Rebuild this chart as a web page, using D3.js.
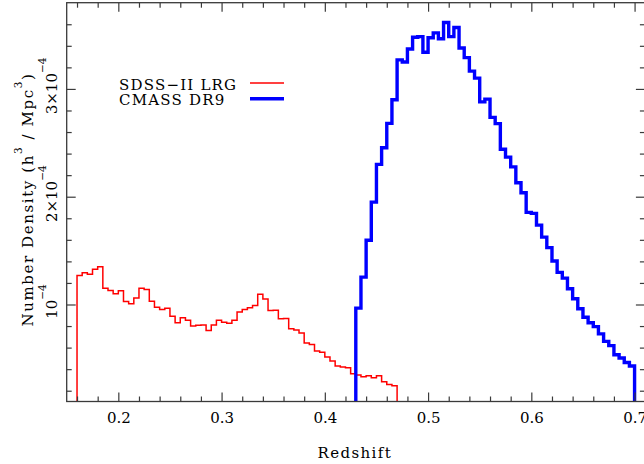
<!DOCTYPE html>
<html>
<head>
<meta charset="utf-8">
<script src="https://cdn.jsdelivr.net/npm/d3@7"></script>
<style>
  html, body { margin: 0; padding: 0; background: #fff; }
  svg { display: block; }
  text { font-family: "DejaVu Serif", serif; fill: #000; }
</style>
</head>
<body>
<svg id="chart" width="644" height="464"></svg>
<script>
// ---------------- data (number density in units of 1e-4 h^3/Mpc^3) ----------------
const lrgBinStart = 0.16;
const lrgBinWidth = 0.005;
const lrgDensity = [
  1.27, 1.295, 1.28, 1.326, 1.35,
  1.15, 1.13, 1.10, 1.128, 1.028,
  1.006, 1.06, 1.15, 1.14, 1.03,
  0.975, 0.953, 0.966, 0.89, 0.83,
  0.876, 0.854, 0.80, 0.807, 0.81,
  0.758, 0.81, 0.854, 0.835, 0.826,
  0.854, 0.93, 0.953, 0.97, 0.99,
  1.096, 1.05, 0.944, 0.947, 0.867,
  0.87, 0.774, 0.764, 0.736, 0.643,
  0.63, 0.568, 0.556, 0.513, 0.475,
  0.43, 0.42, 0.413, 0.357, 0.345,
  0.33, 0.34, 0.32, 0.34, 0.283,
  0.258, 0.245
];

const cmassBinStart = 0.43;
const cmassBinWidth = 0.005;
const cmassDensity = [
  0.966, 1.254, 1.596, 1.95, 2.30,
  2.454, 2.68, 2.90, 3.27, 3.25,
  3.37, 3.48, 3.485, 3.34, 3.475,
  3.52, 3.466, 3.616, 3.485, 3.57,
  3.38, 3.29, 3.165, 3.10, 2.88,
  2.905, 2.736, 2.678, 2.44, 2.367,
  2.277, 2.13, 2.037, 1.855, 1.845,
  1.736, 1.625, 1.528, 1.404, 1.298,
  1.245, 1.146, 1.053, 0.96, 0.882,
  0.83, 0.795, 0.727, 0.658, 0.618,
  0.534, 0.503, 0.462, 0.43
];

const xMajorTicks = [0.2, 0.3, 0.4, 0.5, 0.6, 0.7];
const xMajorLabels = ["0.2", "0.3", "0.4", "0.5", "0.6", "0.7"];
const xMinorTicks = [0.16, 0.18, 0.22, 0.24, 0.26, 0.28, 0.32, 0.34, 0.36, 0.38,
                     0.42, 0.44, 0.46, 0.48, 0.52, 0.54, 0.56, 0.58, 0.62, 0.64, 0.66, 0.68];
const yMajorTicks = [1, 2, 3];
const yMajorMantissa = ["", "2×", "3×"];
const yMinorTicks = [0.2, 0.4, 0.6, 0.8, 1.2, 1.4, 1.6, 1.8, 2.2, 2.4, 2.6, 2.8, 3.2, 3.4, 3.6];

const seriesNames = ["SDSS\u2212II LRG", "CMASS DR9"];
const seriesColors = ["#ff0000", "#0000ff"];
const seriesWidths = [1.5, 3.4];

// ---------------- layout ----------------
const svg = d3.select("#chart");
const L = 66.7, R = 644.9, T = 2.7, B = 401.5;
const x = d3.scaleLinear().domain([0.15, 0.71]).range([L, R]);
const y = d3.scaleLinear().domain([0.1, 3.8]).range([B, T]);
const axisColor = "#3a3a3a";

svg.append("defs").append("clipPath").attr("id", "plotclip")
  .append("rect").attr("x", L).attr("y", T).attr("width", R - L).attr("height", B - T);

// histograms
function histPoints(start, width, vals) {
  const edges = vals.map((v, i) => start + i * width);
  const pts = [[edges[0], y.domain()[0]]];
  vals.forEach((v, i) => pts.push([edges[i], v]));
  const end = start + vals.length * width;
  pts.push([end, vals[vals.length - 1]]);
  pts.push([end, y.domain()[0]]);
  return pts;
}
const line = d3.line().x(d => x(d[0])).y(d => y(d[1])).curve(d3.curveStepAfter);
const gPlot = svg.append("g").attr("clip-path", "url(#plotclip)");
gPlot.append("path").attr("d", line(histPoints(lrgBinStart, lrgBinWidth, lrgDensity)))
  .attr("fill", "none").attr("stroke", seriesColors[0]).attr("stroke-width", seriesWidths[0])
  .attr("stroke-linejoin", "miter");
gPlot.append("path").attr("d", line(histPoints(cmassBinStart, cmassBinWidth, cmassDensity)))
  .attr("fill", "none").attr("stroke", seriesColors[1]).attr("stroke-width", seriesWidths[1])
  .attr("stroke-linejoin", "miter");

// axes (ticks inward on all sides)
function styleAxis(g) {
  g.select(".domain").remove();
  g.selectAll(".tick line").attr("stroke", axisColor).attr("stroke-width", 1.2);
}
svg.append("g").attr("transform", `translate(0,${B})`)
  .call(d3.axisBottom(x).tickValues(xMajorTicks).tickSize(-9).tickPadding(11)
    .tickFormat((d, i) => xMajorLabels[i]))
  .call(styleAxis)
  .call(g => g.selectAll("text").attr("font-size", 15).attr("font-family", "DejaVu Serif").attr("fill", "#000"));
svg.append("g").attr("transform", `translate(0,${B})`)
  .call(d3.axisBottom(x).tickValues(xMinorTicks).tickSize(-5).tickFormat(""))
  .call(styleAxis);
svg.append("g").attr("transform", `translate(0,${T})`)
  .call(d3.axisTop(x).tickValues(xMajorTicks).tickSize(-9).tickFormat(""))
  .call(styleAxis);
svg.append("g").attr("transform", `translate(0,${T})`)
  .call(d3.axisTop(x).tickValues(xMinorTicks).tickSize(-5).tickFormat(""))
  .call(styleAxis);
svg.append("g").attr("transform", `translate(${L},0)`)
  .call(d3.axisLeft(y).tickValues(yMajorTicks).tickSize(-9).tickFormat(""))
  .call(styleAxis);
svg.append("g").attr("transform", `translate(${L},0)`)
  .call(d3.axisLeft(y).tickValues(yMinorTicks).tickSize(-5).tickFormat(""))
  .call(styleAxis);
svg.append("g").attr("transform", `translate(${R},0)`)
  .call(d3.axisRight(y).tickValues(yMajorTicks).tickSize(-9).tickFormat(""))
  .call(styleAxis);
svg.append("g").attr("transform", `translate(${R},0)`)
  .call(d3.axisRight(y).tickValues(yMinorTicks).tickSize(-5).tickFormat(""))
  .call(styleAxis);

// frame
svg.append("rect").attr("x", L).attr("y", T).attr("width", R - L).attr("height", B - T)
  .attr("fill", "none").attr("stroke", axisColor).attr("stroke-width", 1.3);

// y tick labels (rotated)
yMajorTicks.forEach((v, i) => {
  const t = svg.append("text")
    .attr("transform", `translate(57,${y(v)}) rotate(-90)`)
    .attr("text-anchor", "middle").attr("font-size", 15).attr("dx", 3);
  t.append("tspan").text(yMajorMantissa[i] + "10");
  t.append("tspan").attr("dy", -11).attr("font-size", 10.5).text("\u22124");
});

// x axis title
svg.append("text").attr("x", (L + R) / 2 - 1).attr("y", 457.5)
  .attr("text-anchor", "middle").attr("font-size", 15).attr("letter-spacing", 1.4)
  .text("Redshift");

// y axis title
const yt = svg.append("text").attr("transform", `translate(33,199.5) rotate(-90)`)
  .attr("text-anchor", "middle").attr("font-size", 15).attr("letter-spacing", 1.6);
yt.append("tspan").text("Number Density (h");
yt.append("tspan").attr("dy", -11).attr("font-size", 10.5).text("3");
yt.append("tspan").attr("dy", 11).text("  /  Mpc");
yt.append("tspan").attr("dy", -11).attr("font-size", 10.5).text("3");
yt.append("tspan").attr("dy", 11).text(")");

// legend
const legendY = [90, 105];
const legendLineY = [83, 98.7];
seriesNames.forEach((name, i) => {
  svg.append("text").attr("x", 119).attr("y", legendY[i]).attr("font-size", 15)
    .attr("letter-spacing", 1.2).text(name);
  svg.append("line").attr("x1", 250).attr("x2", 284)
    .attr("y1", legendLineY[i]).attr("y2", legendLineY[i])
    .attr("stroke", seriesColors[i]).attr("stroke-width", seriesWidths[i]);
});
</script>
</body>
</html>
